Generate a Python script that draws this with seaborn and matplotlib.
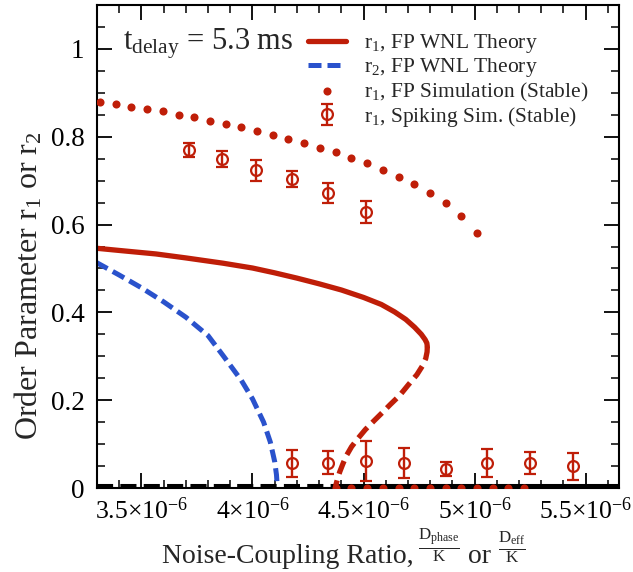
import numpy as np
import pandas as pd
import matplotlib
matplotlib.use("Agg")
import matplotlib.pyplot as plt
import seaborn as sns
from matplotlib.ticker import FixedLocator, FixedFormatter, MultipleLocator

# ---------------- data (noise-coupling ratio in units of 1e-6) ----------------
# r1, FP WNL theory, stable branch
r1_stable_x = [3.298, 3.400, 3.566, 3.700, 3.867, 4.000, 4.100, 4.200, 4.300,
               4.400, 4.500, 4.580, 4.640, 4.690, 4.730, 4.760, 4.777, 4.785,
               4.787]
r1_stable_y = [0.546, 0.541, 0.533, 0.524, 0.512, 0.501, 0.490, 0.478, 0.465,
               0.451, 0.434, 0.418, 0.401, 0.384, 0.366, 0.350, 0.338, 0.330,
               0.322]
# r1, FP WNL theory, unstable branch
r1_unstable_x = [4.787, 4.786, 4.780, 4.765, 4.740, 4.700, 4.663, 4.620, 4.585,
                 4.545, 4.508, 4.475, 4.446, 4.422, 4.407, 4.393, 4.384, 4.376,
                 4.373]
r1_unstable_y = [0.322, 0.310, 0.295, 0.278, 0.258, 0.234, 0.211, 0.190, 0.172,
                 0.152, 0.133, 0.113, 0.094, 0.073, 0.055, 0.037, 0.023, 0.008,
                 0.0]
# r2, FP WNL theory
r2_x = [3.296, 3.400, 3.500, 3.600, 3.700, 3.800, 3.870, 3.950, 4.000, 4.050,
        4.080, 4.100, 4.108, 4.112]
r2_y = [0.514, 0.485, 0.456, 0.424, 0.389, 0.347, 0.300, 0.245, 0.203, 0.150,
        0.105, 0.060, 0.030, 0.0]
# incoherent state r = 0 (unstable / stable ranges)
r0_unstable_x = [3.30, 4.373]
r0_stable_x = [4.373, 5.65]
r0_y = [0.0, 0.0]

# r1, FP simulation (stable), synchronous branch
fp_sync_x = [3.314, 3.385, 3.455, 3.526, 3.597, 3.668, 3.738, 3.809, 3.880,
             3.950, 4.021, 4.092, 4.162, 4.233, 4.304, 4.375, 4.445, 4.516,
             4.587, 4.658, 4.728, 4.799, 4.870, 4.940, 5.011]
fp_sync_y = [0.880, 0.875, 0.868, 0.863, 0.858, 0.850, 0.845, 0.836, 0.829,
             0.822, 0.812, 0.804, 0.795, 0.786, 0.775, 0.765, 0.752, 0.740,
             0.725, 0.709, 0.692, 0.672, 0.649, 0.620, 0.581]
# r1, FP simulation (stable), incoherent branch
fp_inc_x = [4.375, 4.445, 4.516, 4.587, 4.658, 4.728, 4.799, 4.870, 4.940,
            5.011, 5.082, 5.152, 5.223]
fp_inc_y = [0.0] * 13

# r1, spiking simulation (stable)
spk_x = [3.712, 3.861, 4.016, 4.178, 4.342, 4.510,
         4.178, 4.342, 4.510, 4.684, 4.869, 5.055, 5.248, 5.444]
spk_y = [0.769, 0.749, 0.724, 0.703, 0.671, 0.629,
         0.056, 0.058, 0.062, 0.057, 0.043, 0.057, 0.057, 0.049]
spk_err = [0.016, 0.019, 0.024, 0.018, 0.023, 0.025,
           0.031, 0.027, 0.045, 0.035, 0.016, 0.032, 0.024, 0.030]

xtick_vals = [3.5, 4.0, 4.5, 5.0, 5.5]
xtick_labels = ["3.5×10$^{-6}$", "4×10$^{-6}$", "4.5×10$^{-6}$",
                "5×10$^{-6}$", "5.5×10$^{-6}$"]
ytick_vals = [0.0, 0.2, 0.4, 0.6, 0.8, 1.0]
ytick_labels = ["0", "0.2", "0.4", "0.6", "0.8", "1"]

xlabel_parts = ["Noise-Coupling Ratio,", r"$\frac{D_{phase}}{K}$", "or",
                r"$\frac{D_{eff}}{K}$"]

RED = "#BF1E08"
BLUE = "#2A52CC"
BLACK = "#000000"

# ---------------- style ----------------
sns.set_theme(style="ticks")
plt.rcParams.update({
    "font.family": ["Liberation Serif", "DejaVu Serif"],
    "mathtext.fontset": "custom",
    "mathtext.rm": "Liberation Serif",
    "mathtext.it": "Liberation Serif:italic",
    "mathtext.bf": "Liberation Serif:bold",
    "mathtext.default": "regular",
    "axes.linewidth": 1.5,
    "axes.edgecolor": "black",
    "xtick.direction": "in", "ytick.direction": "in",
    "xtick.top": True, "ytick.right": True,
    "xtick.major.size": 11, "ytick.major.size": 11,
    "xtick.minor.size": 5.5, "ytick.minor.size": 5.5,
    "xtick.major.width": 1.3, "ytick.major.width": 1.3,
    "xtick.minor.width": 1.1, "ytick.minor.width": 1.1,
    "xtick.color": "black", "ytick.color": "black",
})

W, H = 633, 572
fig = plt.figure(figsize=(W / 100, H / 100), dpi=100)
ax = fig.add_axes([97 / W, 1 - 488 / H, 522 / W, 483 / H])

# incoherent state line
sns.lineplot(x=r0_unstable_x, y=r0_y, sort=False, estimator=None, ax=ax,
             color=BLACK, lw=5.8, linestyle=(0, (2.0, 0.9)), zorder=1)
sns.lineplot(x=r0_stable_x, y=r0_y, sort=False, estimator=None, ax=ax,
             color=BLACK, lw=5.8, zorder=1)

# theory curves
sns.lineplot(x=r1_stable_x, y=r1_stable_y, sort=False, estimator=None, ax=ax,
             color=RED, lw=3.8, zorder=2, label="r$_1$, FP WNL Theory")
sns.lineplot(x=r1_unstable_x, y=r1_unstable_y, sort=False, estimator=None, ax=ax,
             color=RED, lw=3.8, linestyle=(0, (2.6, 1.3)), zorder=2)
sns.lineplot(x=r2_x, y=r2_y, sort=False, estimator=None, ax=ax,
             color=BLUE, lw=3.6, linestyle=(0, (2.6, 1.2)), zorder=2,
             label="r$_2$, FP WNL Theory")

# FP simulations
sns.scatterplot(x=fp_sync_x, y=fp_sync_y, ax=ax, color=RED, s=34, linewidth=0,
                zorder=3, label="r$_1$, FP Simulation (Stable)")
sns.scatterplot(x=fp_inc_x, y=fp_inc_y, ax=ax, color=RED, s=34, linewidth=0,
                zorder=3)

# spiking simulations
ax.errorbar(spk_x, spk_y, yerr=spk_err, fmt="o", mfc="none", mec=RED,
            ecolor=RED, color=RED, ms=7.8, mew=1.6, elinewidth=1.7,
            capsize=4.5, capthick=1.9, zorder=4,
            label="r$_1$, Spiking Sim. (Stable)")

ax.set_xlim(3.30, 5.65)
ax.set_ylim(0.0, 1.1)

ax.xaxis.set_major_locator(FixedLocator(xtick_vals))
ax.xaxis.set_major_formatter(FixedFormatter(xtick_labels))
ax.xaxis.set_minor_locator(MultipleLocator(0.1))
ax.yaxis.set_major_locator(FixedLocator(ytick_vals))
ax.yaxis.set_major_formatter(FixedFormatter(ytick_labels))
ax.yaxis.set_minor_locator(MultipleLocator(0.05))
ax.tick_params(axis="x", which="major", labelsize=18.5, pad=7)
ax.tick_params(axis="y", which="major", labelsize=19.5, pad=9)

ax.set_ylabel("Order Parameter r$_1$ or r$_2$", fontsize=23)
ax.yaxis.set_label_coords(-0.10, 0.42)

ax.text(0.05, 0.907, r"$t_{delay}$ = 5.3 ms", transform=ax.transAxes,
        fontsize=22, va="baseline", ha="left")

handles, labels = ax.get_legend_handles_labels()
order = ["r$_1$, FP WNL Theory", "r$_2$, FP WNL Theory",
         "r$_1$, FP Simulation (Stable)", "r$_1$, Spiking Sim. (Stable)"]
hmap = dict(zip(labels, handles))
ax.legend([hmap[k] for k in order], order, loc="upper left",
          bbox_to_anchor=(0.405, 0.944), frameon=False, fontsize=15.5,
          handlelength=1.75, handletextpad=0.85, labelspacing=0.06,
          borderpad=0, borderaxespad=0)

# x-axis label built from pieces so the small fractions sit raised like the original
fs_main, fs_frac = 20.0, 17.5
sizes = [fs_main, fs_frac, fs_main, fs_frac]
raises = [0, 7, 0, 7]          # px above the common baseline
gaps = [5, 8, 7]               # px between pieces
base_px, center_px = 563, 344
renderer = fig.canvas.get_renderer()
pieces = [fig.text(0, 0, s, fontsize=f, va="baseline", ha="left")
          for s, f in zip(xlabel_parts, sizes)]
widths = [p.get_window_extent(renderer).width for p in pieces]
total = sum(widths) + sum(gaps)
xcur = center_px - total / 2
for i, (p, w, r) in enumerate(zip(pieces, widths, raises)):
    p.set_position((xcur / W, 1 - (base_px - r) / H))
    xcur += w + (gaps[i] if i < len(gaps) else 0)

fig.savefig("out.png", dpi=100)
